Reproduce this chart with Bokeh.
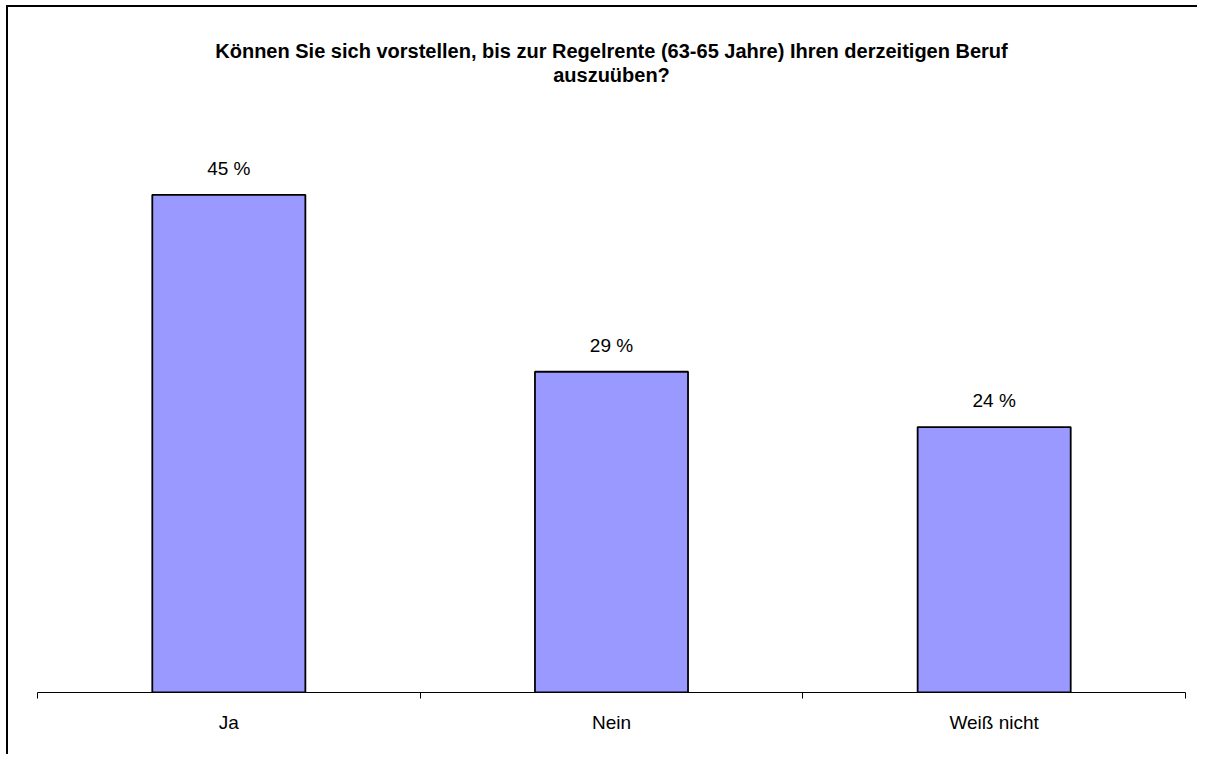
from bokeh.plotting import figure
from bokeh.models import FixedTicker, ColumnDataSource, LabelSet, Range1d, Title
from bokeh.core.properties import value
from bokeh.embed import file_html
from bokeh.resources import INLINE

categories = ["Ja", "Nein", "Weiß nicht"]
values = [45, 29, 24]
value_labels = ["45 %", "29 %", "24 %"]
title_line1 = "Können Sie sich vorstellen, bis zur Regelrente (63-65 Jahre) Ihren derzeitigen Beruf"
title_line2 = "auszuüben?"

FONT = "Liberation Sans"

xs = [i + 0.5 for i in range(len(categories))]
src = ColumnDataSource(dict(x=xs, top=values, label=value_labels))

p = figure(width=1191, height=749, output_backend="svg", toolbar_location=None, tools="",
           x_range=Range1d(0, len(categories)), y_range=Range1d(0, 50),
           min_border_left=29, min_border_right=14, min_border_bottom=64,
           min_border_top=132)
p.toolbar.logo = None
p.styles = {"border-top": "2px solid black", "border-left": "2px solid black",
            "margin-left": "6px", "margin-top": "5px"}

# spacer between plot and title (first added sits closest to the plot)
p.add_layout(Title(text=" ", align="center", text_font=FONT, text_font_size="1px",
                   standoff=51), "above")
for txt in [title_line2, title_line1]:
    p.add_layout(Title(text=txt, align="center", text_font=FONT, text_font_size="20px",
                       text_font_style="bold", text_color="black", standoff=0), "above")

p.vbar(x="x", top="top", bottom=0, width=0.4, source=src,
       fill_color="#9999FF", line_color="black", line_width=1.8)

p.add_layout(LabelSet(x="x", y="top", text="label", source=src, y_offset=20,
                      text_align="center", text_baseline="alphabetic",
                      text_font=value(FONT), text_font_size="19px", text_color="black"))

p.xgrid.visible = False
p.ygrid.visible = False
p.yaxis.visible = False
p.outline_line_color = None

ax = p.xaxis[0]
ax.ticker = FixedTicker(ticks=xs, minor_ticks=list(range(len(categories) + 1)))
ax.major_label_overrides = {x: c for x, c in zip(xs, categories)}
ax.major_tick_line_color = None
ax.major_tick_in = 0
ax.major_tick_out = 0
ax.minor_tick_in = 0
ax.minor_tick_out = 6
ax.minor_tick_line_color = "black"
ax.axis_line_color = "black"
ax.major_label_standoff = 13
ax.major_label_text_font = FONT
ax.major_label_text_font_size = "19px"
ax.major_label_text_color = "black"

open("out.html", "w").write(file_html(p, INLINE))
